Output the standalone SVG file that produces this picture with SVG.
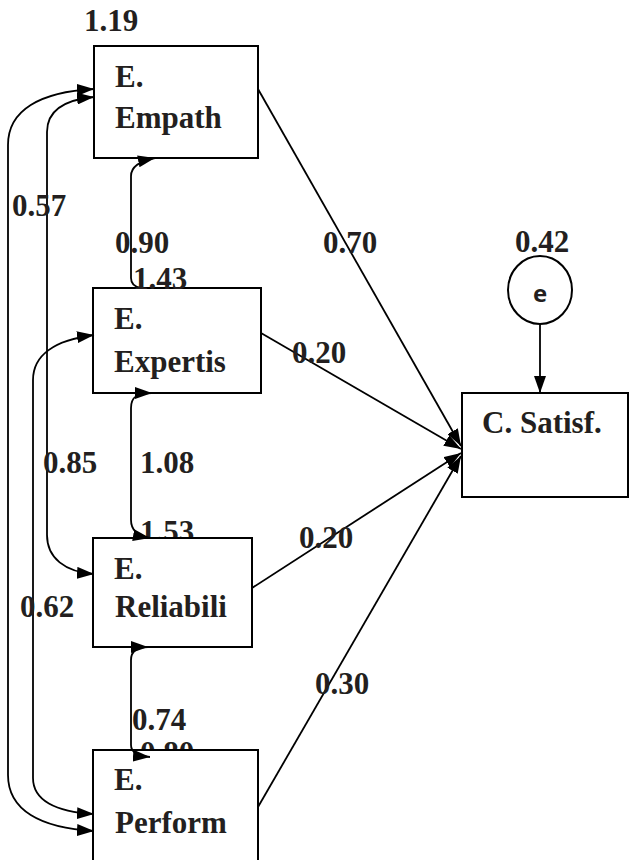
<svg xmlns="http://www.w3.org/2000/svg" width="629" height="860" viewBox="0 0 629 860">
<style>
.t{font-family:"Liberation Serif","Times New Roman",serif;font-weight:bold;font-size:31px;fill:#231f20}
.box{fill:#fff;stroke:#000;stroke-width:2}
.c{fill:none;stroke:#000;stroke-width:1.8}
</style>
<defs>
<marker id="ah" markerUnits="userSpaceOnUse" markerWidth="17" markerHeight="12" refX="17" refY="6" orient="auto-start-reverse">
<path d="M0,0 L17,6 L0,12 z" fill="#000"/>
</marker>
</defs>
<rect width="629" height="860" fill="#fff"/>
<g id="hidden-labels">
<text class="t" x="140" y="542">1.53</text>
<text class="t" x="140" y="763">0.80</text>
</g>
<g id="node-empath">
<rect class="box" x="94" y="46" width="164" height="112"/>
<text class="t" x="115" y="87">E.</text>
<text class="t" x="115" y="128">Empath</text>
</g>
<g id="node-expertis">
<rect class="box" x="93" y="288" width="168" height="105"/>
<text class="t" x="114" y="329">E.</text>
<text class="t" x="114" y="372">Expertis</text>
</g>
<g id="node-reliabili">
<rect class="box" x="93" y="538" width="159" height="109"/>
<text class="t" x="114" y="579">E.</text>
<text class="t" x="115" y="617">Reliabili</text>
</g>
<g id="node-perform">
<rect class="box" x="93" y="750" width="165" height="130"/>
<text class="t" x="114" y="790">E.</text>
<text class="t" x="115" y="833">Perform</text>
</g>
<g id="node-satisf">
<rect class="box" x="462" y="393" width="166" height="104"/>
<text class="t" x="482" y="433">C. Satisf.</text>
</g>
<g id="node-e">
<ellipse cx="540" cy="290" rx="32" ry="34" fill="#fff" stroke="#000" stroke-width="2"/>
<text x="540" y="302" text-anchor="middle" style="font-family:'Open Sans','Liberation Sans',sans-serif;font-weight:bold;font-size:24px;fill:#231f20">e</text>
</g>
<g id="connectors">
<path class="c" d="M258,89 L461,446" marker-end="url(#ah)"/>
<path class="c" d="M261,333 L461,449" marker-end="url(#ah)"/>
<path class="c" d="M252,588 L461,453" marker-end="url(#ah)"/>
<path class="c" d="M258,807 L461,456" marker-end="url(#ah)"/>
<path class="c" d="M540,324 L540,393" marker-end="url(#ah)"/>
<path class="c" d="M94,89 C40,92 8,110 8,145 L8,775 C8,810 40,828 94,831" marker-start="url(#ah)" marker-end="url(#ah)"/>
<path class="c" d="M94,97 C62,100 47,112 47,132 L47,535 C47,558 65,572 94,574" marker-start="url(#ah)" marker-end="url(#ah)"/>
<path class="c" d="M94,335 C55,340 33,355 33,380 L33,778 C33,800 55,812 94,814" marker-start="url(#ah)" marker-end="url(#ah)"/>
<path class="c" d="M141,288 C135,287 131,284 131,278 L131,176 C131,167 140,161 155,158" marker-end="url(#ah)"/>
<path class="c" d="M152,393 C137,393 131,397 131,408 L131,520 C131,530 138,536 150,538" marker-start="url(#ah)" marker-end="url(#ah)"/>
<path class="c" d="M148,647 C137,647 131,651 131,660 L131,745 C131,752 137,756 150,757" marker-start="url(#ah)" marker-end="url(#ah)"/>
</g>
<g id="labels">
<text class="t" x="84" y="31">1.19</text>
<text class="t" x="12" y="216">0.57</text>
<text class="t" x="115" y="253">0.90</text>
<text class="t" x="133" y="289">1.43</text>
<text class="t" x="323" y="253">0.70</text>
<text class="t" x="515" y="252">0.42</text>
<text class="t" x="292" y="363">0.20</text>
<text class="t" x="43" y="473">0.85</text>
<text class="t" x="140" y="473">1.08</text>
<text class="t" x="299" y="548">0.20</text>
<text class="t" x="20" y="617">0.62</text>
<text class="t" x="315" y="694">0.30</text>
<text class="t" x="132" y="730">0.74</text>
</g>
</svg>
